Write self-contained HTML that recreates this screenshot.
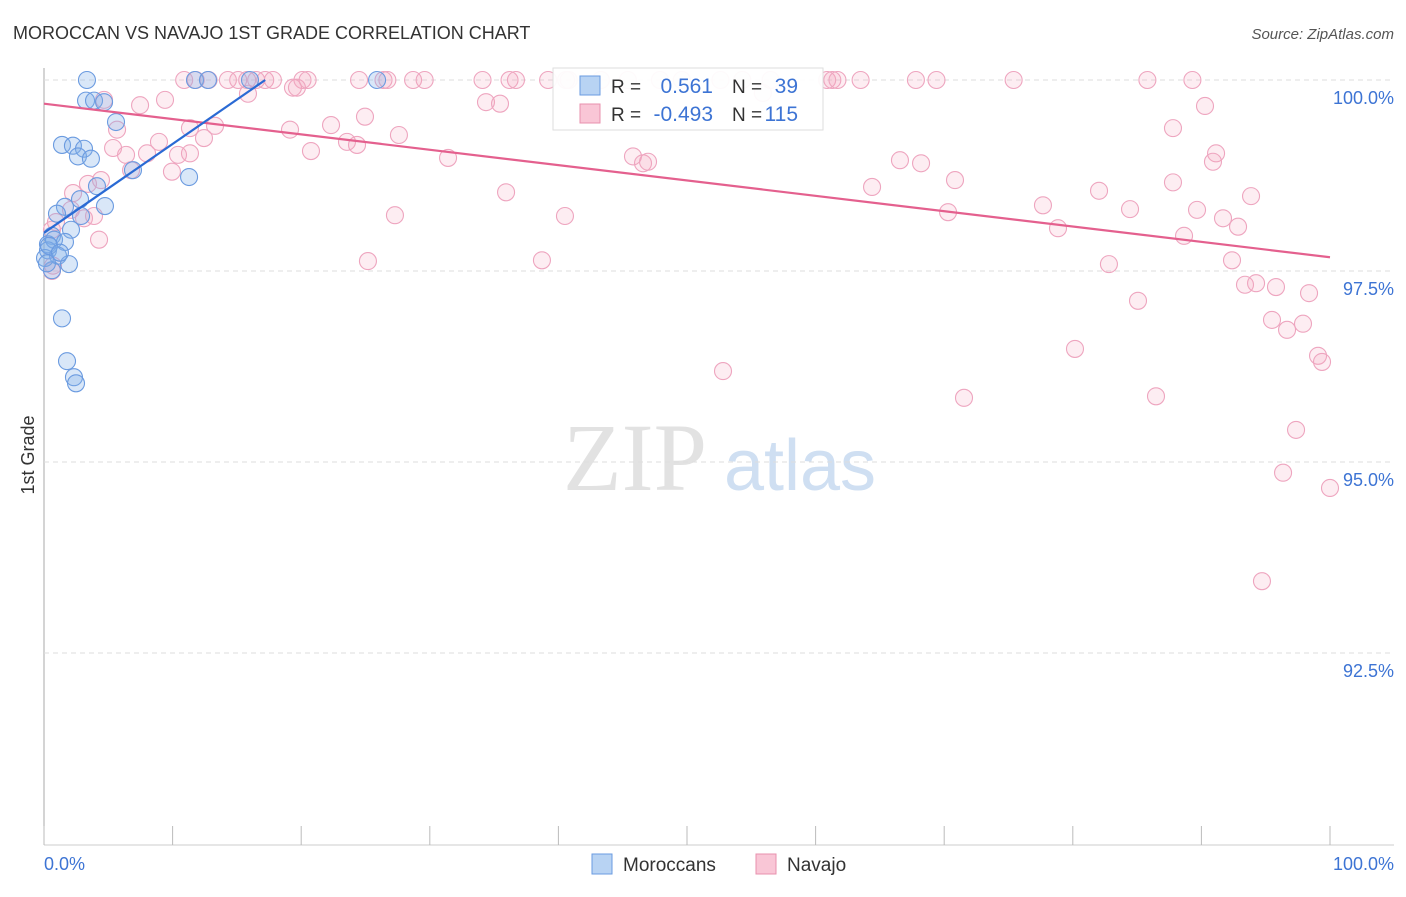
<!DOCTYPE html>
<html><head><meta charset="utf-8"><style>
body{margin:0;background:#fff;font-family:"Liberation Sans",sans-serif;}
svg text{font-family:"Liberation Sans",sans-serif;}
</style></head><body>
<svg id="c" width="1406" height="892">
<text x="13" y="39" font-size="18" fill="#333">MOROCCAN VS NAVAJO 1ST GRADE CORRELATION CHART</text>
<text x="1394" y="39" font-size="15" fill="#555" font-style="italic" text-anchor="end">Source: ZipAtlas.com</text>
<text x="34" y="455" font-size="18" fill="#333" transform="rotate(-90 34 455)" text-anchor="middle">1st Grade</text>
<g><text x="635" y="490" font-size="96" fill="#e2e2e2" font-family="Liberation Serif" text-anchor="middle" style="font-family:'Liberation Serif',serif">ZIP</text><text x="800" y="490" font-size="72" fill="#cfdff2" text-anchor="middle">atlas</text></g>
<g id="grid"></g><g id="pts"></g><g id="lines"></g>
<g>
<rect x="553" y="68" width="270" height="62" fill="#fff" stroke="#ddd" opacity="0.95"/>
<rect x="580" y="76" width="20" height="19" fill="#b8d3f3" stroke="#6a9be0"/>
<rect x="580" y="104" width="20" height="19" fill="#f9c6d6" stroke="#e890ae"/>
<text x="611" y="93" font-size="19" fill="#333">R =</text><text x="713" y="93" font-size="21" fill="#3d74d4" text-anchor="end">0.561</text>
<text x="732" y="93" font-size="19" fill="#333">N =</text><text x="798" y="93" font-size="21" fill="#3d74d4" text-anchor="end">39</text>
<text x="611" y="121" font-size="19" fill="#333">R =</text><text x="713" y="121" font-size="21" fill="#3d74d4" text-anchor="end">-0.493</text>
<text x="732" y="121" font-size="19" fill="#333">N =</text><text x="798" y="121" font-size="21" fill="#3d74d4" text-anchor="end">115</text>
</g>
<g>
<rect x="592" y="854" width="20" height="20" fill="#b8d3f3" stroke="#6a9be0"/>
<text x="623" y="871" font-size="19" fill="#333">Moroccans</text>
<rect x="756" y="854" width="20" height="20" fill="#f9c6d6" stroke="#e890ae"/>
<text x="787" y="871" font-size="19" fill="#333">Navajo</text>
</g>
</svg>
<script>
const yTicks=[100,97.5,95,92.5];
const yTickLabels=["100.0%","97.5%","95.0%","92.5%"];
const xTicks=[0,10,20,30,40,50,60,70,80,90,100];
const blueX=[3.34,11.74,12.75,16.02,25.9,3.27,3.89,4.67,5.6,1.4,2.25,3.11,2.64,3.65,6.92,11.28,4.12,2.8,1.63,1.01,4.74,2.88,2.1,0.62,0.31,0.78,1.63,0.31,1.09,1.94,0.62,1.4,1.79,2.33,2.49,0.08,0.39,1.24,0.23];
const blueY=[100,100,100,100,100,99.73,99.73,99.71,99.45,99.15,99.14,99.1,99.0,98.97,98.82,98.73,98.61,98.44,98.34,98.25,98.35,98.22,98.04,97.96,97.85,97.91,97.88,97.77,97.7,97.59,97.51,96.88,96.32,96.11,96.03,97.67,97.83,97.74,97.6];
const pinkX=[10.9,11.8,12.8,14.3,15.1,15.8,16.5,17.2,17.8,20.1,20.5,24.5,26.4,26.7,28.7,29.6,34.1,36.2,36.7,39.2,40.6,40.8,43.3,45.4,47.9,49.6,52.6,54.3,56.5,60.9,61.3,61.7,63.5,67.8,69.4,75.4,85.8,89.3,
4.67,7.47,9.41,19.36,19.67,15.86,34.37,35.46,55.9,90.28,5.68,8.94,11.35,13.3,19.13,22.32,24.96,27.6,23.56,24.34,20.76,5.37,6.38,8.01,10.42,11.35,12.44,9.95,6.77,31.42,45.8,46.58,46.97,66.56,68.2,70.84,87.79,91.14,90.9,82.04,87.79,64.39,35.93,2.26,4.43,3.42,3.89,3.11,2.1,0.93,0.62,4.28,0.7,0.62,27.29,40.51,70.3,77.68,78.85,84.45,89.66,88.65,91.68,92.85,93.86,92.38,25.19,38.72,82.81,85.07,93.39,94.25,95.8,98.37,95.49,96.66,97.9,80.17,52.8,99.07,99.38,71.54,86.47,97.36,96.35,100,94.71];
const pinkY=[100,100,100,100,100,100,100,100,100,100,100,100,100,100,100,100,100,100,100,100,100,100,100,100,100,100,100,100,100,100,100,100,100,100,100,100,100,100,
99.74,99.67,99.74,99.9,99.9,99.82,99.71,99.69,99.83,99.66,99.35,99.19,99.37,99.4,99.35,99.41,99.52,99.28,99.19,99.15,99.07,99.11,99.02,99.04,99.02,99.04,99.24,98.8,98.82,98.98,99.0,98.91,98.93,98.95,98.91,98.69,99.37,99.04,98.93,98.55,98.66,98.6,98.53,98.52,98.69,98.64,98.22,98.19,98.3,98.14,98.04,97.91,97.57,97.5,98.23,98.22,98.27,98.36,98.06,98.31,98.3,97.96,98.19,98.08,98.48,97.64,97.63,97.64,97.59,97.11,97.32,97.34,97.29,97.21,96.86,96.73,96.81,96.48,96.19,96.39,96.31,95.84,95.86,95.42,94.86,94.66,93.44];
const blueTrendX=[0,17.2], blueTrendY=[98.0,100];
const pinkTrendX=[0,100], pinkTrendY=[99.69,97.68];
const NS='http://www.w3.org/2000/svg';
const xs=v=>44+v*12.86, ys=v=>80+(100-v)*76.4;
function mk(tag,attrs,parent){const e=document.createElementNS(NS,tag);for(const k in attrs)e.setAttribute(k,attrs[k]);parent.appendChild(e);return e;}
const grid=document.getElementById('grid');
const ax=mk('line',{x1:44,y1:68,x2:44,y2:845,stroke:'#aaa'},grid);


const bx=mk('line',{x1:44,y1:845,x2:1394,y2:845,stroke:'#ccc'},grid);


yTicks.forEach((t,i)=>{
 const g=mk('line',{x1:44,y1:ys(t),x2:1394,y2:ys(t),stroke:'#ddd','stroke-dasharray':'5,4'},grid);
 
 
 const l=mk('text',{x:1394,y:ys(t)+24,'font-size':18,fill:'#3d74d4','text-anchor':'end'},grid);l.textContent=yTickLabels[i];
 
 
});
xTicks.forEach(t=>{
 const k=mk('line',{x1:xs(t),y1:826,x2:xs(t),y2:845,stroke:'#bbb'},grid);
 
 
});
const x0=mk('text',{x:44,y:870,'font-size':18,fill:'#3d74d4'},grid);x0.textContent='0.0%';


const x1=mk('text',{x:1394,y:870,'font-size':18,fill:'#3d74d4','text-anchor':'end'},grid);x1.textContent='100.0%';


const pts=document.getElementById('pts');
pinkX.forEach((v,i)=>{const c=mk('circle',{cx:xs(v),cy:ys(pinkY[i]),r:8.5,fill:'rgba(245,165,192,0.2)',stroke:'#eea5bf','stroke-width':1.1},pts);
 
 });
blueX.forEach((v,i)=>{const c=mk('circle',{cx:xs(v),cy:ys(blueY[i]),r:8.5,fill:'rgba(130,175,232,0.3)',stroke:'#6b9be0','stroke-width':1.1},pts);
 
 });
const lines=document.getElementById('lines');
const pl=mk('line',{x1:xs(pinkTrendX[0]),y1:ys(pinkTrendY[0]),x2:xs(pinkTrendX[1]),y2:ys(pinkTrendY[1]),stroke:'#e4608e','stroke-width':2.2},lines);


const bl=mk('line',{x1:xs(blueTrendX[0]),y1:ys(blueTrendY[0]),x2:xs(blueTrendX[1]),y2:ys(blueTrendY[1]),stroke:'#2a6ad4','stroke-width':2.2},lines);


</script>
</body></html>
